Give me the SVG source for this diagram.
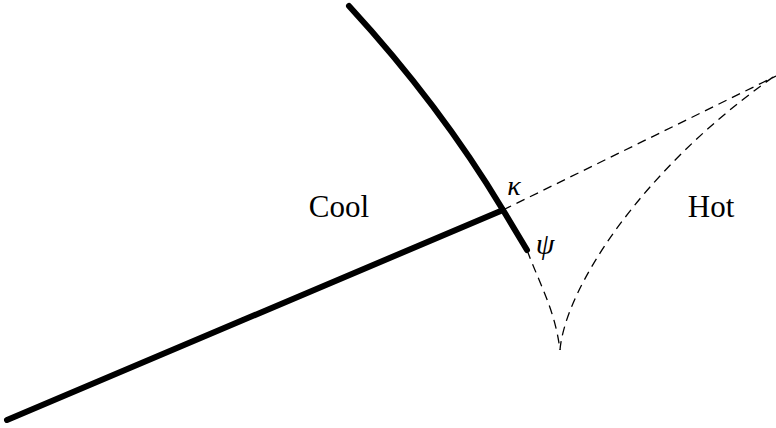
<svg xmlns="http://www.w3.org/2000/svg" width="776" height="428" viewBox="0 0 776 428">
<style>
.thick{fill:none;stroke:#000;stroke-width:6;stroke-linecap:round;stroke-linejoin:round}
.dash{fill:none;stroke:#000;stroke-width:1.3;stroke-dasharray:9,6}
.lbl{font-family:"Liberation Serif",serif;font-size:31px;fill:#000}
.sym{font-family:"Liberation Serif",serif;font-style:italic;fill:#000}
</style>
<rect width="776" height="428" fill="#fff"/>
<g id="connectors">
<path class="dash" d="M503,210 L776,76"/>
<path class="dash" d="M527,250 C540,285 555,310 560,350"/>
<path class="dash" d="M560,350 C565,290 640,170 776,75"/>
<path class="thick" d="M349,6 Q440,105 503,210 L527,250"/>
<path class="thick" d="M7,420 L503,210"/>
</g>
<g id="cool"><text class="lbl" x="339" y="217" text-anchor="middle">Cool</text></g>
<g id="hot"><text class="lbl" x="711" y="217" text-anchor="middle">Hot</text></g>
<g id="kappa"><text class="sym" x="514" y="195" font-size="28" text-anchor="middle">κ</text></g>
<g id="psi"><text class="sym" x="545" y="254" font-size="30" text-anchor="middle">ψ</text></g>
</svg>
